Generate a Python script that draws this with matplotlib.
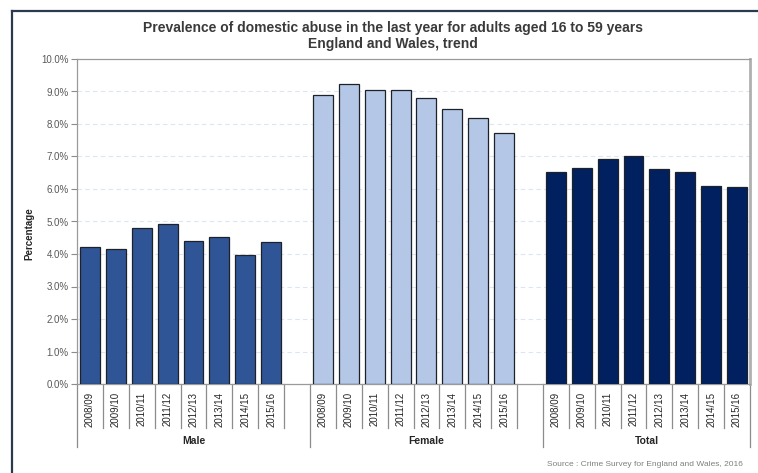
#!/usr/bin/env python3
"""Domestic abuse prevalence for adults aged 16 to 59, grouped bar chart by sex."""

from __future__ import annotations

import matplotlib

matplotlib.use("Agg")

import matplotlib.pyplot as plt
from matplotlib.lines import Line2D
from matplotlib.transforms import blended_transform_factory


YEARS = ["2008/09", "2009/10", "2010/11", "2011/12",
         "2012/13", "2013/14", "2014/15", "2015/16"]
GROUPS = ["Male", "Female", "Total"]
MALE = [4.21, 4.14, 4.80, 4.91, 4.40, 4.52, 3.96, 4.37]
FEMALE = [8.88, 9.24, 9.06, 9.06, 8.79, 8.47, 8.17, 7.72]
TOTAL = [6.52, 6.64, 6.93, 7.02, 6.61, 6.52, 6.09, 6.05]
COLORS = ["#2F5597", "#B4C7E7", "#002060"]

TITLE = ("Prevalence of domestic abuse in the last year for adults aged 16 to 59 years\n"
         "England and Wales, trend")
SOURCE = "Source : Crime Survey for England and Wales, 2016"

W, H = 758, 473


def main() -> int:
    plt.rcParams["font.family"] = ["Liberation Sans", "DejaVu Sans"]

    fig = plt.figure(figsize=(W / 100, H / 100), dpi=100)
    ax = fig.add_axes([77 / W, 1 - 384 / H, (750 - 77) / W, (384 - 59) / H])

    # one slot per year, plus a blank slot after every group except the last
    step = len(YEARS) + 1
    n_slots = step * len(GROUPS) - 1
    for g, values in enumerate([MALE, FEMALE, TOTAL]):
        xs = [g * step + i for i in range(len(values))]
        ax.bar(xs, values, width=0.77, color=COLORS[g],
               edgecolor="#1e2228", linewidth=0.9, zorder=3)

    ax.set_xlim(-0.5, n_slots - 0.5)
    ax.set_ylim(0, 10)
    ax.set_yticks(range(0, 11))
    ax.set_yticklabels([f"{v:.1f}%" for v in range(0, 11)])
    ax.tick_params(axis="y", labelsize=7, colors="#8c8c8c", labelcolor="#595959",
                   length=4, width=0.8, pad=2)
    ax.set_xticks([])

    for v in range(1, 10):
        ax.axhline(v, color="#dce6f2", linewidth=0.8, linestyle=(0, (4, 3)), zorder=1)

    for side in ("left", "bottom", "top"):
        ax.spines[side].set_color("#9a9a9a")
        ax.spines[side].set_linewidth(0.9)
    ax.spines["right"].set_color("#b0b0b0")
    ax.spines["right"].set_linewidth(2.0)

    # category axis below the plot: year labels, separators, group names
    trans = blended_transform_factory(ax.transData, ax.transAxes)
    short_len = 44 / 325
    long_len = 63 / 325
    for k in range(n_slots + 1):
        edge = k - 0.5
        is_long = k % step == 0 or k == n_slots
        length = long_len if is_long else short_len
        ax.add_line(Line2D([edge, edge], [0, -length], transform=trans,
                           color="#8c8c8c", linewidth=0.9, clip_on=False))

    for g, group in enumerate(GROUPS):
        for i, year in enumerate(YEARS):
            ax.text(g * step + i, -8 / 325, year, transform=trans, rotation=90,
                    ha="center", va="top", fontsize=7, color="#262626")
        last = min(g * step + step, n_slots)
        centre = (g * step - 0.5 + last - 0.5) / 2
        ax.text(centre, -57 / 325, group, transform=trans, ha="center",
                va="center", fontsize=7.5, fontweight="bold", color="#262626")

    fig.text(29 / W, 1 - 234 / H, "Percentage", rotation=90, ha="center",
             va="center", fontsize=7, fontweight="bold", color="#262626")
    fig.text(393 / W, 1 - 36 / H, TITLE, ha="center", va="center",
             fontsize=10, fontweight="bold", color="#3a3a3a", linespacing=1.15)
    fig.text(743 / W, 1 - 464 / H, SOURCE, ha="right", va="center",
             fontsize=6, color="#7f7f7f")

    # dark frame round the panel, cut off at the right and bottom
    frame = dict(transform=fig.transFigure, color="#2c3a4f", linewidth=1.6)
    fig.add_artist(Line2D([12 / W, 12 / W], [0, 1 - 11 / H], **frame))
    fig.add_artist(Line2D([12 / W, 1], [1 - 11 / H, 1 - 11 / H], **frame))

    fig.savefig("out.png", dpi=100)
    plt.close(fig)
    return 0


if __name__ == "__main__":
    raise SystemExit(main())
